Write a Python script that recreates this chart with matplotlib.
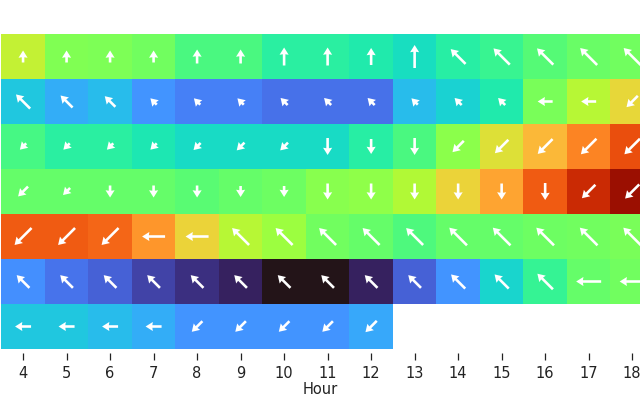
"""
Hourly heatmap with wind arrows
"""

import numpy as np
import matplotlib
matplotlib.use('Agg')
import matplotlib.pyplot as plt

# DATA
hours = np.arange(4, 19)
nan = np.nan

# colour level per cell (0..1 on the colour scale, below 0 = under colour)
level_r1 = [0.55, 0.46, 0.455, 0.445, 0.405, 0.405, 0.365, 0.365, 0.35, 0.32, 0.36, 0.385, 0.415, 0.435, 0.445]
level_r2 = [0.27, 0.23, 0.25, 0.19, 0.16, 0.16, 0.135, 0.135, 0.135, 0.25, 0.29, 0.35, 0.45, 0.53, 0.61]
level_r3 = [0.40, 0.365, 0.365, 0.34, 0.31, 0.31, 0.31, 0.31, 0.36, 0.405, 0.47, 0.59, 0.67, 0.745, 0.82]
level_r4 = [0.43, 0.43, 0.43, 0.43, 0.42, 0.43, 0.44, 0.465, 0.475, 0.52, 0.62, 0.70, 0.80, 0.89, 0.96]
level_r5 = [0.80, 0.80, 0.785, 0.72, 0.62, 0.53, 0.49, 0.445, 0.43, 0.41, 0.43, 0.43, 0.44, 0.445, 0.45]
level_r6 = [0.18, 0.14, 0.11, 0.07, 0.04, 0.02, -0.05, -0.05, 0.02, 0.11, 0.19, 0.30, 0.38, 0.43, 0.445]
level_r7 = [0.27, 0.27, 0.25, 0.23, 0.19, 0.19, 0.19, 0.19, 0.22, nan, nan, nan, nan, nan, nan]

# arrow direction in degrees (90 = up, 180 = left, 270 = down)
dir_r1 = [90] * 10 + [135] * 5
dir_r2 = [135] * 12 + [180, 180, 225]
dir_r3 = [225] * 7 + [270] * 3 + [225] * 5
dir_r4 = [225] * 2 + [270] * 11 + [225] * 2
dir_r5 = [225] * 3 + [180] * 2 + [135] * 10
dir_r6 = [135] * 13 + [180] * 2
dir_r7 = [180] * 4 + [225] * 5 + [nan] * 6

# arrow speed
speed_r1 = [3.0, 3.0, 3.0, 3.0, 3.5, 3.5, 4.5, 4.5, 4.25, 5.75, 5.25, 5.75, 5.75, 6.0, 6.0]
speed_r2 = [5.0, 4.25, 3.75, 2.25, 2.25, 2.25, 2.5, 2.5, 2.5, 2.25, 2.5, 2.5, 3.75, 3.75, 4.0]
speed_r3 = [2.25, 2.25, 2.25, 2.25, 2.5, 2.75, 2.75, 4.25, 3.75, 4.25, 4.0, 4.75, 5.25, 5.5, 5.5]
speed_r4 = [3.5, 2.5, 3.0, 3.0, 3.0, 2.75, 2.75, 4.0, 4.0, 4.0, 4.0, 4.0, 4.25, 4.75, 5.0]
speed_r5 = [6.0, 6.0, 6.0, 5.75, 5.75, 6.0, 6.0, 6.0, 6.0, 6.0, 6.25, 6.25, 6.25, 6.25, 6.25]
speed_r6 = [4.5, 4.5, 4.5, 4.5, 4.5, 4.5, 4.5, 4.5, 4.5, 4.5, 5.0, 5.0, 5.5, 6.25, 6.25]
speed_r7 = [4.0, 4.0, 4.0, 4.0, 3.75, 3.75, 3.75, 3.75, 4.0, nan, nan, nan, nan, nan, nan]

level = np.array([level_r1, level_r2, level_r3, level_r4, level_r5, level_r6, level_r7])
direction = np.array([dir_r1, dir_r2, dir_r3, dir_r4, dir_r5, dir_r6, dir_r7], dtype=float)
speed = np.array([speed_r1, speed_r2, speed_r3, speed_r4, speed_r5, speed_r6, speed_r7])

# PLOT
fig = plt.figure(figsize=(6.4, 4.0), dpi=100)
ax = fig.add_axes([0, 0.1275, 1, 0.7875])

cmap = plt.get_cmap('turbo').copy()
cmap.set_under('#231418')
cmap.set_bad('white')

n_rows = level.shape[0]
x_edges = np.append(hours - 0.5, hours[-1] + 0.5)
y_edges = np.arange(n_rows + 1)
ax.pcolormesh(x_edges, y_edges, np.ma.masked_invalid(level), cmap=cmap, vmin=0, vmax=1)

X, Y = np.meshgrid(hours, np.arange(n_rows) + 0.5)
rad = np.deg2rad(direction)
U = speed * np.cos(rad)
V = speed * np.sin(rad)
ok = ~np.isnan(speed)
ax.quiver(X[ok], Y[ok], U[ok], V[ok], color='white', pivot='middle',
          angles='uv', scale_units='dots', scale=0.25, units='dots',
          width=2.6, headwidth=3.5, headlength=2.8, headaxislength=2.6)

ax.set_xlim(3.47, 18.18)
ax.set_ylim(n_rows, 0)

for s in ax.spines.values():
    s.set_visible(False)
ax.spines['bottom'].set_position(('outward', 3))
ax.set_yticks([])
ax.set_xticks(hours)
ax.tick_params(axis='x', length=5, width=0.9, color='#222222', labelsize=10.5,
               labelcolor='#222222', pad=4.5)
ax.set_xlabel('Hour', fontsize=10.5, color='#222222', labelpad=0.5)

fig.savefig('out.png', dpi=100)
